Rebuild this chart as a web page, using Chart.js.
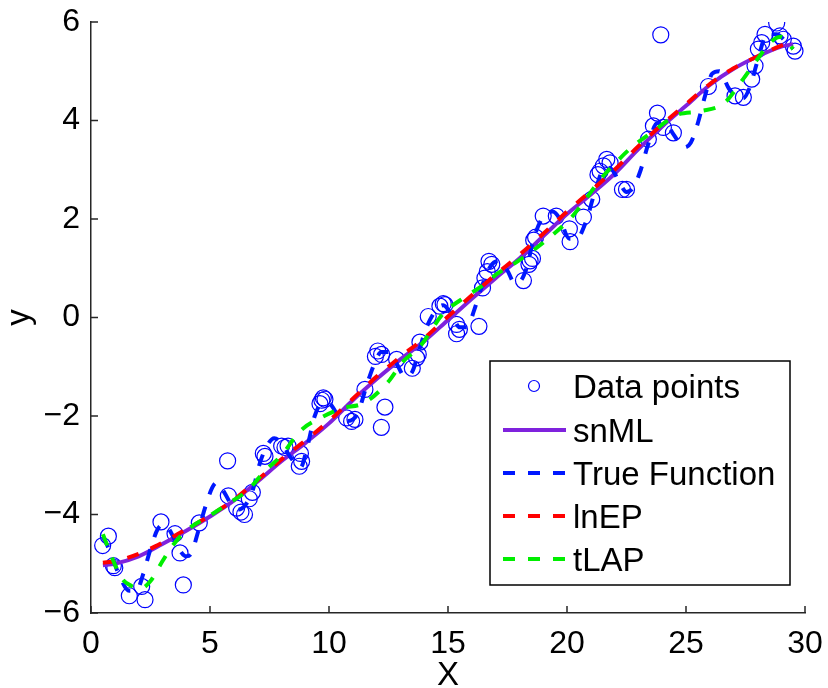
<!DOCTYPE html>
<html>
<head>
<meta charset="utf-8">
<script src="https://cdn.jsdelivr.net/npm/chart.js@4.4.1/dist/chart.umd.min.js"></script>
<style>
  html, body { margin: 0; padding: 0; background: #fff; }
  #wrap { width: 828px; height: 688px; }
</style>
</head>
<body>
<div id="wrap"><canvas id="chart" width="828" height="688"></canvas></div>
<script>
// observed samples
const dataX = [0.49, 0.73, 0.94, 1.0, 1.61, 2.13, 2.27, 2.94, 3.53, 3.74, 3.88, 4.55, 5.74, 5.77, 6.12, 6.3, 6.45, 6.65, 6.78,
  7.24, 7.31, 8.01, 8.15, 8.28, 8.8, 8.85, 8.75, 9.62, 9.7, 9.76, 9.83, 10.74, 10.95, 11.09, 11.51, 11.95, 12.05, 12.21, 12.2,
  12.35, 12.84, 13.5, 13.68, 13.75, 13.82, 14.17, 14.66, 14.8, 14.87, 15.36, 15.48, 15.36, 16.3, 16.45, 16.55, 16.65, 16.72,
  16.84, 18.17, 18.4, 18.45, 18.55, 18.6, 18.68, 19.0, 19.55, 20.1, 20.13, 20.69, 21.04, 21.3, 21.39, 21.53, 21.67, 21.81,
  22.33, 22.5, 23.42, 23.63, 23.8, 24.05, 24.47, 23.94, 25.94, 27.06, 27.41, 27.76, 27.9, 28.04, 28.18, 28.32, 28.81, 28.95,
  29.09, 29.51, 29.58];
const dataY = [-4.63, -4.44, -5.04, -5.08, -5.65, -5.46, -5.73, -4.15, -4.39, -4.78, -5.43, -4.17, -2.91, -3.62, -3.87, -3.95,
  -4.0, -3.68, -3.55, -2.76, -2.82, -2.61, -2.64, -2.61, -2.76, -2.92, -3.02, -1.75, -1.68, -1.63, -1.66, -2.04, -2.11, -2.07,
  -1.46, -0.79, -0.68, -0.75, -2.23, -1.82, -0.85, -1.03, -0.82, -0.75, -0.5, 0.02, 0.23, 0.28, 0.26, -0.14, -0.24, -0.33,
  -0.18, 0.6, 0.8, 0.93, 1.14, 1.08, 0.75, 1.08, 1.15, 1.2, 1.57, 1.63, 2.06, 2.06, 1.8, 1.54, 2.04, 2.4, 2.9, 2.97, 3.08,
  3.21, 3.14, 2.6, 2.6, 3.62, 3.89, 4.15, 3.86, 3.75, 5.74, 4.69, 4.5, 4.47, 4.84, 5.11, 5.45, 5.58, 5.75, 5.98, 5.72,
  5.65, 5.51, 5.41];

// snML fit
const snmlX = [0.5, 1, 2, 3, 4, 5, 6, 7, 8, 9, 10, 11, 12, 13, 14, 15, 16, 17, 18, 19, 20, 21, 22, 23, 24, 25, 26, 27, 28, 29, 29.5];
const snmlY = [-5.03, -5.0, -4.85, -4.6, -4.33, -4.04, -3.72, -3.33, -2.92, -2.55, -2.15, -1.68, -1.25, -0.85, -0.48, -0.05,
  0.38, 0.8, 1.2, 1.65, 2.1, 2.5, 2.92, 3.42, 3.88, 4.3, 4.72, 5.05, 5.3, 5.5, 5.55];

// true function
const trueX = [0.5, 0.8, 1.2, 1.6, 1.9, 2.2, 2.5, 2.8, 3.1, 3.4, 3.7, 4.0, 4.2, 4.5, 4.8, 5.1, 5.3, 5.6, 5.9, 6.2, 6.5, 6.8,
  7.1, 7.4, 7.7, 8.0, 8.4, 8.8, 9.1, 9.4, 9.7, 10.0, 10.4, 10.8, 11.2, 11.6, 11.9, 12.2, 12.5, 12.8, 13.2, 13.5, 13.8, 14.1,
  14.5, 14.8, 15.1, 15.5, 15.8, 16.1, 16.4, 16.8, 17.2, 17.5, 17.8, 18.0, 18.3, 18.6, 19.0, 19.4, 19.7, 20.1, 20.4, 20.8,
  21.2, 21.6, 21.9, 22.2, 22.5, 22.8, 23.1, 23.4, 23.8, 24.1, 24.5, 24.9, 25.2, 25.5, 25.8, 26.1, 26.4, 26.8, 27.1, 27.4,
  27.7, 28.0, 28.4, 28.8, 29.2, 29.5];
const trueY = [-4.45, -4.75, -5.25, -5.55, -5.55, -5.2, -4.7, -4.3, -4.2, -4.4, -4.7, -4.85, -4.8, -4.35, -3.85, -3.45, -3.35,
  -3.55, -3.8, -3.9, -3.8, -3.5, -2.95, -2.6, -2.45, -2.55, -2.85, -3.05, -2.6, -2.0, -1.75, -1.75, -2.0, -2.1, -1.95, -1.35,
  -0.95, -0.7, -0.7, -0.9, -1.2, -1.1, -0.65, -0.2, 0.15, 0.25, 0.1, -0.2, -0.2, 0.15, 0.6, 1.05, 1.15, 0.95, 0.7, 0.72, 1.0,
  1.6, 2.05, 2.15, 2.0, 1.6, 1.6, 1.95, 2.6, 3.05, 3.0, 2.75, 2.55, 2.65, 3.0, 3.5, 3.95, 3.95, 3.7, 3.45, 3.55, 3.95, 4.5,
  4.95, 5.0, 4.65, 4.5, 4.45, 4.7, 5.2, 5.75, 5.75, 5.6, 5.45];

// lnEP fit
const lnepX = [0.5, 1, 2, 3, 4, 5, 6, 7, 8, 9, 10, 11, 12, 13, 14, 15, 16, 17, 18, 19, 20, 21, 22, 23, 24, 25, 26, 27, 28, 29, 29.5];
const lnepY = [-4.98, -4.95, -4.8, -4.57, -4.3, -4.02, -3.7, -3.3, -2.88, -2.5, -2.1, -1.65, -1.2, -0.8, -0.42, 0.02, 0.45,
  0.87, 1.27, 1.7, 2.15, 2.57, 3.0, 3.48, 3.92, 4.33, 4.74, 5.06, 5.3, 5.52, 5.6];

// tLAP fit
const tlapX = [0.5, 0.9, 1.3, 1.7, 2.1, 2.5, 3.0, 3.4, 4.0, 5.0, 5.7, 6.6, 7.3, 8.0, 8.8, 9.6, 10.5, 11.5, 12.5, 13.1, 13.8,
  14.8, 15.6, 16.4, 17.1, 17.8, 18.6, 19.4, 20.2, 20.7, 21.45, 22.1, 22.75, 23.6, 24.6, 25.6, 26.6, 27.4, 27.9, 28.7, 29.0, 29.5];
const tlapY = [-4.4, -4.9, -5.3, -5.45, -5.5, -5.35, -4.95, -4.65, -4.33, -4.02, -3.8, -3.5, -3.12, -2.8, -2.3, -2.05, -1.85,
  -1.73, -1.3, -0.9, -0.6, 0.08, 0.38, 0.63, 0.9, 1.1, 1.37, 1.68, 2.04, 2.35, 2.83, 3.17, 3.47, 3.77, 4.11, 4.19, 4.35,
  4.84, 5.18, 5.65, 5.7, 5.45];

const xTicks = [0, 5, 10, 15, 20, 25, 30];
const yTicks = [-6, -4, -2, 0, 2, 4, 6];

const FONT = "'Liberation Sans', Arial, sans-serif";
const pts = (xs, ys) => xs.map((x, i) => ({ x, y: ys[i] }));

function lineSet(label, xs, ys, color, dash, order) {
    return {
        label, data: pts(xs, ys), showLine: true, borderColor: color, backgroundColor: color,
        borderWidth: 4, borderDash: dash, pointRadius: 0, cubicInterpolationMode: 'monotone', order
    };
}

const innerTicks = {
    id: 'innerTicks',
    afterDraw(chart) {
        const { ctx, chartArea: a, scales: { x, y } } = chart;
        ctx.save();
        ctx.strokeStyle = '#262626';
        ctx.lineWidth = 1.5;
        ctx.beginPath();
        xTicks.forEach(v => { const p = x.getPixelForValue(v); ctx.moveTo(p, a.bottom); ctx.lineTo(p, a.bottom - 7); });
        yTicks.forEach(v => { const p = y.getPixelForValue(v); ctx.moveTo(a.left, p); ctx.lineTo(a.left + 7, p); });
        ctx.stroke();
        ctx.restore();
    }
};

// legend box drawn inside the plot, like the original
const boxLegend = {
    id: 'boxLegend',
    afterDraw(chart) {
        const ctx = chart.ctx;
        const L = 490, T = 361, R = 790, B = 585;
        ctx.save();
        ctx.fillStyle = '#fff';
        ctx.fillRect(L, T, R - L, B - T);
        ctx.strokeStyle = '#000';
        ctx.lineWidth = 1.5;
        ctx.strokeRect(L, T, R - L, B - T);
        const rows = [386, 430, 473, 516, 559];
        ctx.font = '33px ' + FONT;
        ctx.textBaseline = 'alphabetic';
        chart.data.datasets.forEach((ds, i) => {
            const cy = rows[i];
            ctx.strokeStyle = ds.borderColor;
            if (ds.showLine) {
                ctx.lineWidth = ds.borderWidth;
                ctx.setLineDash(ds.borderDash || []);
                ctx.beginPath();
                ctx.moveTo(503, cy);
                ctx.lineTo(566, cy);
                ctx.stroke();
                ctx.setLineDash([]);
            } else {
                ctx.lineWidth = 1.2;
                ctx.beginPath();
                ctx.arc(534, cy, 5.5, 0, Math.PI * 2);
                ctx.stroke();
            }
            ctx.fillStyle = '#000';
            ctx.fillText(ds.label, 573, cy + 11.5);
        });
        ctx.restore();
    }
};

const ctx = document.getElementById('chart');
new Chart(ctx, {
    type: 'scatter',
    data: {
        datasets: [
            { label: 'Data points', data: pts(dataX, dataY), pointStyle: 'circle', pointRadius: 8, pointBorderWidth: 1.2,
              borderColor: '#0000ff', backgroundColor: 'rgba(0,0,0,0)', showLine: false, order: 5 },
            lineSet('snML', snmlX, snmlY, '#7f22dd', [], 4),
            lineSet('True Function', trueX, trueY, '#0018ff', [12, 13], 3),
            lineSet('lnEP', lnepX, lnepY, '#ff0000', [12, 13], 2),
            lineSet('tLAP', tlapX, tlapY, '#00ee00', [12, 13], 1)
        ]
    },
    options: {
        responsive: false,
        animation: false,
        layout: { padding: { left: 0, right: 23, top: 22, bottom: 0 } },
        plugins: { legend: { display: false }, tooltip: { enabled: false } },
        scales: {
            x: {
                type: 'linear', min: 0, max: 30,
                afterBuildTicks: s => { s.ticks = xTicks.map(v => ({ value: v })); },
                afterFit: s => { s.height = 75; s.paddingLeft = 0; s.paddingRight = 0; },
                grid: { display: false, drawTicks: false },
                border: { display: true, color: '#262626', width: 1.5 },
                ticks: { color: '#000', padding: 12, maxRotation: 0, font: { family: FONT, size: 32 } },
                title: { display: true, text: 'X', color: '#000', padding: { top: 0, bottom: -8 }, font: { family: FONT, size: 33 } }
            },
            y: {
                type: 'linear', min: -6, max: 6,
                afterBuildTicks: s => { s.ticks = yTicks.map(v => ({ value: v })); },
                afterFit: s => { s.width = 91; s.paddingTop = 0; s.paddingBottom = 0; },
                grid: { display: false, drawTicks: false },
                border: { display: true, color: '#262626', width: 1.5 },
                ticks: { color: '#000', padding: 11, font: { family: FONT, size: 32 },
                         callback: v => String(v).replace('-', '\u2212') },
                title: { display: true, text: 'y', color: '#000', padding: 0, font: { family: FONT, size: 33 } }
            }
        }
    },
    plugins: [innerTicks, boxLegend]
});
</script>
</body>
</html>
